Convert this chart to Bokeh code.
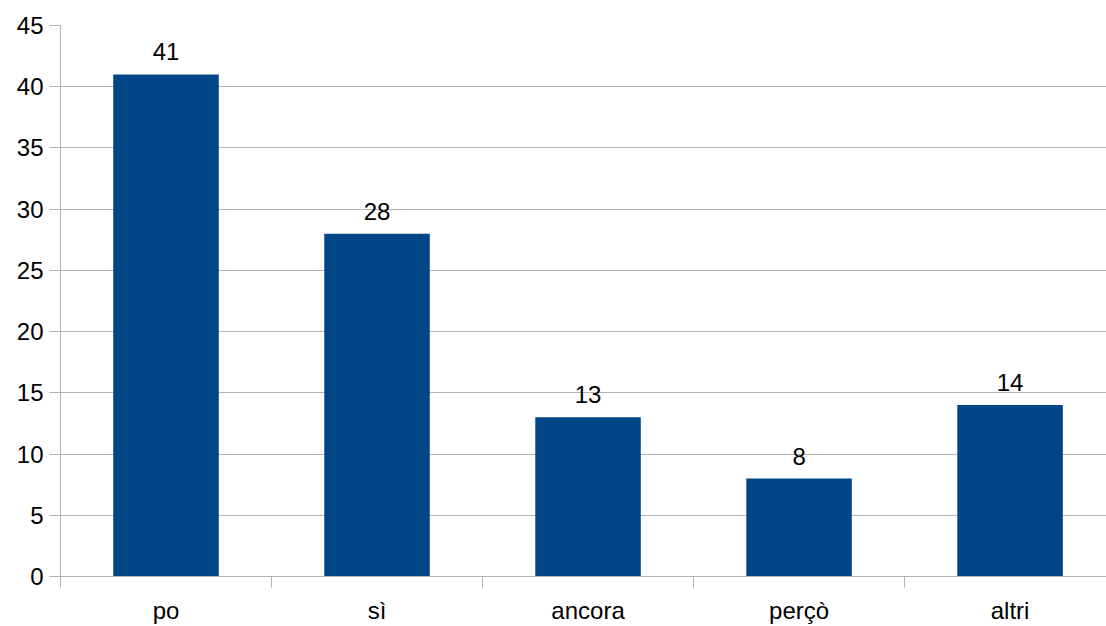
from bokeh.plotting import figure
from bokeh.models import FixedTicker, Range1d, ColumnDataSource
from bokeh.core.properties import value
from bokeh.embed import file_html
from bokeh.resources import INLINE

categories = ["po", "sì", "ancora", "perçò", "altri"]
counts = [41, 28, 13, 8, 14]
y_ticks = [0, 5, 10, 15, 20, 25, 30, 35, 40, 45]

centers = [i + 0.5 for i in range(len(categories))]
src = ColumnDataSource(dict(x=centers, top=counts, label=[str(c) for c in counts]))

FONT = "Liberation Sans"
GRID = "#b3b3b3"
BAR = "#004586"

p = figure(width=1106, height=626, output_backend="svg", toolbar_location=None,
           x_range=Range1d(0, 4.957), y_range=Range1d(0, 45),
           min_border_left=60, min_border_right=0, min_border_top=25, min_border_bottom=49)
p.outline_line_color = None
p.background_fill_color = "white"
p.border_fill_color = "white"

p.vbar(x="x", top="top", width=0.5, bottom=0, source=src, color=BAR, line_color=None)
p.text(x="x", y="top", text="label", source=src, text_align="center", text_baseline="bottom",
       y_offset=-14, text_font=value(FONT), text_font_size="24px", text_color="black")

# y axis
yax = p.yaxis[0]
yax.ticker = FixedTicker(ticks=y_ticks)
yax.axis_line_color = GRID
yax.major_tick_line_color = GRID
yax.major_tick_out = 11
yax.major_tick_in = 0
yax.minor_tick_line_color = None
yax.major_label_text_font = FONT
yax.major_label_text_font_size = "24px"
yax.major_label_text_color = "black"
yax.major_label_standoff = 6

# x axis: labels at centers, ticks at category boundaries
xax = p.xaxis[0]
xax.ticker = FixedTicker(ticks=centers, minor_ticks=[0, 1, 2, 3, 4, 5])
xax.major_label_overrides = {c: name for c, name in zip(centers, categories)}
xax.axis_line_color = GRID
xax.major_tick_line_color = None
xax.major_tick_out = 0
xax.major_tick_in = 0
xax.minor_tick_line_color = GRID
xax.minor_tick_out = 11
xax.minor_tick_in = 0
xax.major_label_text_font = FONT
xax.major_label_text_font_size = "24px"
xax.major_label_text_color = "black"
xax.major_label_standoff = 9

p.xgrid.grid_line_color = None
p.ygrid.grid_line_color = GRID
p.ygrid.ticker = FixedTicker(ticks=y_ticks)

open("out.html", "w").write(file_html(p, INLINE))
